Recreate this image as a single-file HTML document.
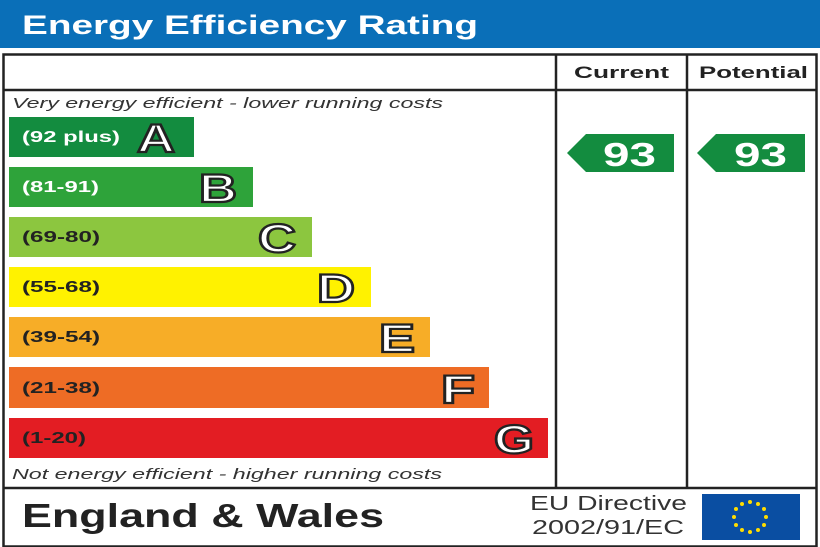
<!DOCTYPE html>
<html><head><style>body{margin:0;background:#fff}svg{display:block}</style></head><body>
<svg width="820" height="547" viewBox="0 0 820 547" xmlns="http://www.w3.org/2000/svg" font-family="Liberation Sans, Arial, sans-serif">
<rect x="0" y="0" width="820" height="48" fill="#0a6fb8"/>
<text x="22" y="34" font-size="27" font-weight="bold" fill="#fff" textLength="456" lengthAdjust="spacingAndGlyphs">Energy Efficiency Rating</text>
<rect x="3.5" y="54.5" width="813" height="492" fill="none" stroke="#222" stroke-width="2.5"/>
<line x1="3" y1="90" x2="817" y2="90" stroke="#222" stroke-width="2.5"/>
<line x1="3" y1="488" x2="817" y2="488" stroke="#222" stroke-width="2.5"/>
<line x1="556" y1="54" x2="556" y2="488" stroke="#222" stroke-width="2.5"/>
<line x1="687" y1="54" x2="687" y2="488" stroke="#222" stroke-width="2.5"/>
<text x="574" y="78" font-size="17" font-weight="bold" fill="#222" textLength="95" lengthAdjust="spacingAndGlyphs">Current</text>
<text x="699" y="78" font-size="17" font-weight="bold" fill="#222" textLength="109" lengthAdjust="spacingAndGlyphs">Potential</text>
<text x="12" y="108" font-size="15" font-style="italic" fill="#333" textLength="431" lengthAdjust="spacingAndGlyphs">Very energy efficient - lower running costs</text>
<text x="12" y="479" font-size="15" font-style="italic" fill="#333" textLength="430" lengthAdjust="spacingAndGlyphs">Not energy efficient - higher running costs</text>
<g font-weight="bold">
<g font-size="16" lengthAdjust="spacingAndGlyphs">
<rect x="9" y="117" width="185" height="40" fill="#138c3f"/>
<text x="22" y="142" fill="#fff" textLength="98" lengthAdjust="spacingAndGlyphs">(92 plus)</text>
<rect x="9" y="167" width="244" height="40" fill="#2ea33a"/>
<text x="22" y="192" fill="#fff" textLength="77" lengthAdjust="spacingAndGlyphs">(81-91)</text>
<rect x="9" y="217" width="303" height="40" fill="#8cc63f"/>
<text x="22" y="242" fill="#222" textLength="78" lengthAdjust="spacingAndGlyphs">(69-80)</text>
<rect x="9" y="267" width="362" height="40" fill="#fff200"/>
<text x="22" y="292" fill="#222" textLength="78" lengthAdjust="spacingAndGlyphs">(55-68)</text>
<rect x="9" y="317" width="421" height="40" fill="#f7ad27"/>
<text x="22" y="342" fill="#222" textLength="78" lengthAdjust="spacingAndGlyphs">(39-54)</text>
<rect x="9" y="367" width="480" height="41" fill="#ee6c25"/>
<text x="22" y="393" fill="#222" textLength="78" lengthAdjust="spacingAndGlyphs">(21-38)</text>
<rect x="9" y="418" width="539" height="40" fill="#e31d23"/>
<text x="22" y="443" fill="#222" textLength="64" lengthAdjust="spacingAndGlyphs">(1-20)</text>
</g>
<g font-size="40" fill="#fff" stroke="#222" stroke-width="2.2" lengthAdjust="spacingAndGlyphs">
<text x="137" y="152" textLength="38" lengthAdjust="spacingAndGlyphs">A</text>
<text x="199" y="202" textLength="38" lengthAdjust="spacingAndGlyphs">B</text>
<text x="258" y="252" textLength="38" lengthAdjust="spacingAndGlyphs">C</text>
<text x="317" y="302" textLength="38" lengthAdjust="spacingAndGlyphs">D</text>
<text x="379" y="352" textLength="36" lengthAdjust="spacingAndGlyphs">E</text>
<text x="441" y="403" textLength="34" lengthAdjust="spacingAndGlyphs">F</text>
<text x="494" y="453" textLength="40" lengthAdjust="spacingAndGlyphs">G</text>
</g>
<polygon points="567,153 586,134 674,134 674,172 586,172" fill="#138c3f"/>
<text x="603" y="166" font-size="33" fill="#fff" textLength="53" lengthAdjust="spacingAndGlyphs">93</text>
<polygon points="697,153 716,134 805,134 805,172 716,172" fill="#138c3f"/>
<text x="734" y="166" font-size="33" fill="#fff" textLength="53" lengthAdjust="spacingAndGlyphs">93</text>
<text x="22" y="527" font-size="33" fill="#222" textLength="362" lengthAdjust="spacingAndGlyphs">England &amp; Wales</text>
</g>
<text x="530" y="510" font-size="20" fill="#333" textLength="157" lengthAdjust="spacingAndGlyphs">EU Directive</text>
<text x="532" y="534" font-size="20" fill="#333" textLength="152" lengthAdjust="spacingAndGlyphs">2002/91/EC</text>
<rect x="702" y="494" width="98" height="46" fill="#0a4ea2"/>
<g fill="#ffdd00">
<circle cx="750" cy="502" r="2"/><circle cx="758" cy="504" r="2"/><circle cx="764" cy="509" r="2"/><circle cx="766" cy="517" r="2"/><circle cx="764" cy="525" r="2"/><circle cx="758" cy="530" r="2"/><circle cx="750" cy="532" r="2"/><circle cx="742" cy="530" r="2"/><circle cx="736" cy="525" r="2"/><circle cx="734" cy="517" r="2"/><circle cx="736" cy="509" r="2"/><circle cx="742" cy="504" r="2"/>
</g>
</svg>
</body></html>
